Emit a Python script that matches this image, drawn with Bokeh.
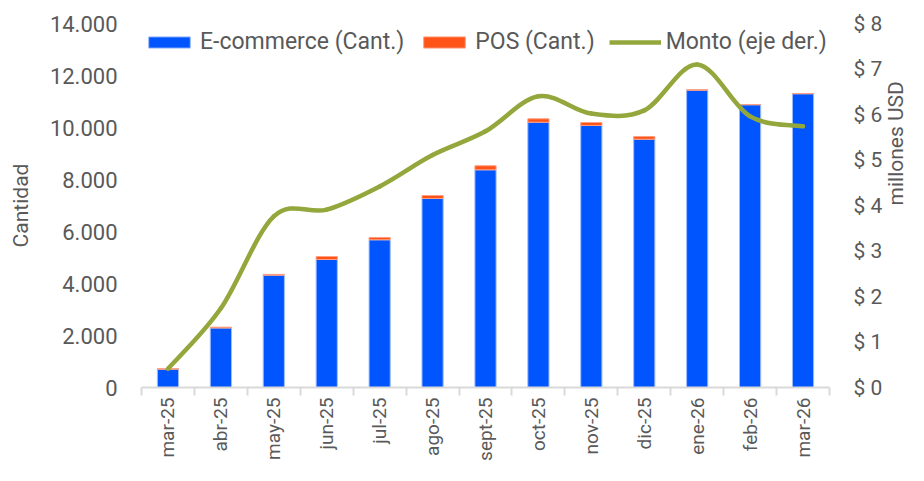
import math
from bokeh.plotting import figure
from bokeh.models import (Range1d, LinearAxis, FixedTicker, Legend, LegendItem,
                          ColumnDataSource)
from bokeh.embed import file_html
from bokeh.resources import INLINE

months = ["mar-25", "abr-25", "may-25", "jun-25", "jul-25", "ago-25", "sept-25",
          "oct-25", "nov-25", "dic-25", "ene-26", "feb-26", "mar-26"]
ecommerce = [705, 2290, 4320, 4923, 5681, 7269, 8373, 10204, 10077, 9550, 11435, 10875, 11298]
pos = [15, 30, 30, 115, 90, 115, 155, 130, 115, 105, 15, 10, 10]
monto = [0.41, 1.74, 3.76, 3.91, 4.42, 5.11, 5.63, 6.40, 6.02, 6.09, 7.10, 5.96, 5.74]
left_ticks = [0, 2000, 4000, 6000, 8000, 10000, 12000, 14000]
left_labels = ["0", "2.000", "4.000", "6.000", "8.000", "10.000", "12.000", "14.000"]
right_ticks = [0, 1, 2, 3, 4, 5, 6, 7, 8]
right_labels = ["$ 0", "$ 1", "$ 2", "$ 3", "$ 4", "$ 5", "$ 6", "$ 7", "$ 8"]

BLUE = "#0055FF"
ORANGE = "#FF5317"
GREEN = "#93A73C"
TXT = "#595959"
AX = "#D9D9D9"
FONT = "Roboto"

n = len(months)
xc = [i + 0.5 for i in range(n)]

p = figure(width=922, height=473, output_backend="svg", toolbar_location=None,
           x_range=Range1d(0, n), y_range=Range1d(0, 14000),
           min_border_left=141, min_border_top=23, min_border_right=93,
           min_border_bottom=86)
p.outline_line_color = None
p.xgrid.visible = False
p.ygrid.visible = False
p.extra_y_ranges = {"right": Range1d(0, 8)}

src = ColumnDataSource(dict(x=xc, ecom=ecommerce, pos=pos))
bars = p.vbar_stack(["ecom", "pos"], x="x", width=0.4, source=src,
                    color=[BLUE, ORANGE], line_color=["#9DBBFF", "#FF9E80"],
                    line_width=1)

# smooth line (cubic bezier segments through the points)
x0, y0, x1, y1, cx0, cy0, cx1, cy1 = [], [], [], [], [], [], [], []
t = 1.0 / 6.0
for i in range(n - 1):
    pa = (xc[max(i - 1, 0)], monto[max(i - 1, 0)])
    pb = (xc[i], monto[i])
    pc = (xc[i + 1], monto[i + 1])
    pd = (xc[min(i + 2, n - 1)], monto[min(i + 2, n - 1)])
    x0.append(pb[0]); y0.append(pb[1]); x1.append(pc[0]); y1.append(pc[1])
    cx0.append(pb[0] + (pc[0] - pa[0]) * t); cy0.append(pb[1] + (pc[1] - pa[1]) * t)
    cx1.append(pc[0] - (pd[0] - pb[0]) * t); cy1.append(pc[1] - (pd[1] - pb[1]) * t)
p.bezier(x0=x0, y0=y0, x1=x1, y1=y1, cx0=cx0, cy0=cy0, cx1=cx1, cy1=cy1,
         line_color=GREEN, line_width=4.5, y_range_name="right", line_cap="round")
# off-range line only used for the legend swatch
leg_line = p.line(x=[-5, -4], y=[-5, -5], line_color=GREEN, line_width=4.5,
                  y_range_name="right")

def style(ax, size="21px"):
    ax.major_label_text_font = FONT
    ax.major_label_text_font_size = size
    ax.major_label_text_color = TXT
    ax.axis_label_text_font = FONT
    ax.axis_label_text_color = TXT
    ax.axis_label_text_font_style = "normal"

yl = p.yaxis[0]
yl.ticker = FixedTicker(ticks=left_ticks)
yl.major_label_overrides = dict(zip(left_ticks, left_labels))
yl.axis_line_color = None
yl.major_tick_line_color = None
yl.minor_tick_line_color = None
yl.major_tick_out = 0
yl.major_label_standoff = 24
yl.axis_label = "Cantidad"
yl.axis_label_standoff = 14
style(yl, "22px")
yl.axis_label_text_font_size = "21px"

yr = LinearAxis(y_range_name="right")
yr.ticker = FixedTicker(ticks=right_ticks)
yr.major_label_overrides = dict(zip(right_ticks, right_labels))
yr.axis_line_color = None
yr.major_tick_line_color = None
yr.minor_tick_line_color = None
yr.major_tick_out = 0
yr.major_label_standoff = 24
style(yr, "21px")
p.add_layout(yr, "right")

# title-only axis for the right-hand title, spanning the upper part of the axis
yt = LinearAxis(y_range_name="right", bounds=(5.5, 8))
yt.ticker = FixedTicker(ticks=[])
yt.axis_line_color = None
yt.major_tick_line_color = None
yt.minor_tick_line_color = None
yt.major_tick_out = 0
yt.minor_tick_out = 0
yt.axis_label = "millones USD"
yt.axis_label_standoff = 10
style(yt, "21px")
yt.axis_label_text_font_size = "21px"
yt.axis_label_orientation = math.pi / 2
p.add_layout(yt, "right")

xa = p.xaxis[0]
xa.ticker = FixedTicker(ticks=xc, minor_ticks=list(range(n + 1)))
xa.major_label_overrides = dict(zip(xc, months))
xa.major_label_orientation = math.pi / 2
xa.axis_line_color = AX
xa.axis_line_width = 2
xa.major_tick_line_color = None
xa.major_tick_out = 0
xa.major_tick_in = 0
xa.minor_tick_line_color = AX
xa.minor_tick_line_width = 2
xa.minor_tick_out = 8
xa.minor_tick_in = 0
xa.major_label_standoff = 2
style(xa, "19px")

legend = Legend(items=[LegendItem(label="E-commerce (Cant.)", renderers=[bars[0]]),
                       LegendItem(label="POS (Cant.)", renderers=[bars[1]]),
                       LegendItem(label="Monto (eje der.)", renderers=[leg_line])],
                orientation="horizontal", location=(2, 332),
                glyph_width=52, glyph_height=14, label_standoff=5, spacing=14,
                padding=0, margin=0, border_line_color=None,
                background_fill_alpha=0,
                label_text_font=FONT, label_text_font_size="23px",
                label_text_color=TXT)
p.add_layout(legend, "center")

open("out.html", "w").write(file_html(p, INLINE))
